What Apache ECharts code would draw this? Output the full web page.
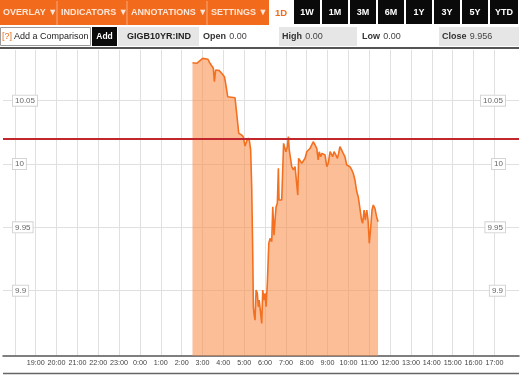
<!DOCTYPE html>
<html>
<head>
<meta charset="utf-8">
<script src="https://cdn.jsdelivr.net/npm/echarts@6/dist/echarts.min.js"></script>
<style>
html,body{margin:0;padding:0;background:#fff;}
#c{width:524px;height:380px;}
</style>
</head>
<body>
<div id="c"></div>
<script>
// Time of day in hours (negative = previous evening), yield values
var times = [2.52,2.72,2.78,3.01,3.26,3.36,3.44,3.52,3.57,3.63,3.71,3.81,3.87,3.92,4.00,4.05,4.11,4.16,4.21,4.56,4.63,4.74,
  4.88,4.96,5.04,5.12,5.20,5.25,5.31,5.36,5.41,5.44,5.47,5.52,5.57,5.63,5.68,5.72,5.79,5.84,5.89,5.95,6.00,6.05,6.11,
  6.18,6.24,6.32,6.37,6.43,6.48,6.53,6.59,6.64,6.67,6.72,6.80,6.85,6.89,6.96,7.00,7.07,7.12,7.16,7.23,7.28,7.36,7.44,
  7.52,7.57,7.61,7.68,7.76,7.83,7.92,8.00,8.07,8.16,8.24,8.31,8.40,8.48,8.55,8.60,8.67,8.73,8.79,8.88,8.96,9.03,9.12,
  9.20,9.24,9.31,9.40,9.47,9.53,9.59,9.67,9.75,9.83,9.92,9.99,10.07,10.16,10.23,10.31,10.40,10.47,10.55,10.63,10.68,
  10.75,10.81,10.88,10.94,11.00,11.07,11.13,11.19,11.27,11.35,11.42];
var yields = [10.080,10.0795,10.078,10.0834,10.0827,10.0795,10.078,10.0756,10.065,10.0742,10.0748,10.0737,10.0729,10.0716,
  10.0703,10.0689,10.0637,10.0624,10.0531,10.0523,10.0513,10.0242,
  10.0229,10.0213,10.0142,10.0182,10.0205,10.0182,10.0111,9.9818,9.9295,9.8873,9.8821,9.8768,9.9005,9.8979,9.8873,
  9.8926,9.8821,9.8742,9.9005,9.8926,9.8979,9.8873,9.9058,
  9.9374,9.9413,9.9387,9.9663,9.9439,9.9558,9.9663,9.969,9.9966,9.9716,9.9729,9.9716,9.9729,10.0163,10.0176,10.0097,
  10.0137,10.0216,10.0111,10.0097,9.9979,9.9953,9.9979,
  9.9966,9.9755,10.0045,10.0032,10.0006,10.0018,10.0045,10.0097,10.0097,10.0124,10.0137,10.0176,10.015,10.0124,
  10.0032,10.0097,10.0058,10.0084,10.0097,10.0071,9.9979,10.0006,10.0097,
  10.0111,10.0058,10.0097,10.0071,10.0045,10.0084,10.0137,10.0111,10.0084,10.0058,9.9992,10.0006,9.9979,9.9953,
  9.9927,9.9874,9.9781,9.9742,9.965,9.9558,9.9532,
  9.9637,9.9558,9.9637,9.9558,9.9374,9.9505,9.9637,9.9676,9.965,9.9584,9.9544];
var prevClose = 10.0234;
var hourTicks = [-6,-5,-4,-3,-2,-1,0,1,2,3,4,5,6,7,8,9,10,11,12,13,14,15,16,17];
var hourLabels = [-5,-4,-3,-2,-1,0,1,2,3,4,5,6,7,8,9,10,11,12,13,14,15,16,17];
var yTicks = [9.9,9.95,10,10.05];
var menuItems = ['OVERLAY \u25BC','INDICATORS \u25BC','ANNOTATIONS \u25BC','SETTINGS \u25BC'];
var rangeButtons = ['1W','1M','3M','6M','1Y','3Y','5Y','YTD'];
var ticker = 'GIGB10YR:IND';
var stats = [['Open','0.00'],['High','0.00'],['Low','0.00'],['Close','9.956']];

var FONT = 'Liberation Sans, Arial, sans-serif';
var ORANGE = '#f26a1b';

var data = times.map(function(t,i){return [t, yields[i]];});

var g = [];
// top menu bar
g.push({type:'rect', shape:{x:0,y:0,width:269,height:25}, style:{fill:ORANGE}});
var menuX = [3,61,131,211];
var sepX = [57,127,207];
sepX.forEach(function(x){ g.push({type:'line', shape:{x1:x,y1:1,x2:x,y2:25}, style:{stroke:'#f9a878',lineWidth:1}}); });
menuItems.forEach(function(s,i){
  g.push({type:'text', x:menuX[i], y:13, style:{text:s, fill:'#fde6d8', font:'bold 9px '+FONT, textVerticalAlign:'middle'}});
});
g.push({type:'text', x:281, y:13, style:{text:'1D', fill:ORANGE, font:'bold 9.5px '+FONT, textAlign:'center', textVerticalAlign:'middle'}});
rangeButtons.forEach(function(s,i){
  var x = 294 + i*28;
  var w = (i===rangeButtons.length-1)?28:26;
  g.push({type:'rect', shape:{x:x,y:0,width:w,height:24}, style:{fill:'#0a0a0a'}});
  g.push({type:'text', x:x+w/2, y:13, style:{text:s, fill:'#ffffff', font:'bold 9px '+FONT, textAlign:'center', textVerticalAlign:'middle'}});
});
// second row
g.push({type:'rect', shape:{x:0.5,y:27.5,width:90,height:18}, style:{fill:'#fff', stroke:'#9a9a9a', lineWidth:1}});
g.push({type:'text', x:2, y:37, style:{text:'[?]', fill:'#e07020', font:'9px '+FONT, textVerticalAlign:'middle'}});
g.push({type:'text', x:14, y:37, style:{text:'Add a Comparison', fill:'#222', font:'9px '+FONT, textVerticalAlign:'middle'}});
g.push({type:'rect', shape:{x:92,y:27,width:25,height:19}, style:{fill:'#0a0a0a'}});
g.push({type:'text', x:104.5, y:37, style:{text:'Add', fill:'#fff', font:'bold 8.5px '+FONT, textAlign:'center', textVerticalAlign:'middle'}});
g.push({type:'rect', shape:{x:118,y:27,width:81,height:19}, style:{fill:'#e6e6e6'}});
g.push({type:'text', x:159, y:37, style:{text:ticker, fill:'#222', font:'bold 9px '+FONT, textAlign:'center', textVerticalAlign:'middle'}});
var statBg = [null,[279,78],null,[439,80]];
var statX = [203,282,362,442];
stats.forEach(function(s,i){
  if(statBg[i]) g.push({type:'rect', shape:{x:statBg[i][0],y:27,width:statBg[i][1],height:19}, style:{fill:'#e6e6e6'}});
  g.push({type:'text', x:statX[i], y:37, style:{rich:{b:{font:'bold 9px '+FONT, fill:'#333'}, n:{font:'9px '+FONT, fill:'#444'}}, text:'{b|'+s[0]+'} {n|'+s[1]+'}', textVerticalAlign:'middle'}});
});
g.push({type:'line', shape:{x1:0,y1:48,x2:519,y2:48}, style:{stroke:'#555',lineWidth:2}});
g.push({type:'line', shape:{x1:3,y1:373.5,x2:519,y2:373.5}, style:{stroke:'#666',lineWidth:1.5}});

var option = {
  animation: false,
  backgroundColor: '#fff',
  grid: {left:3, top:50, width:516, height:305.7, containLabel:false},
  xAxis: {
    type:'value', min:-6.568, max:18.18,
    axisLine:{show:true, lineStyle:{color:'#555', width:1.5}},
    axisTick:{show:false, customValues: hourTicks},
    axisLabel:{customValues: hourLabels, margin:4, fontSize:7.2, color:'#444', fontFamily:FONT,
      formatter:function(v){ return ((v+24)%24)+':00'; }},
    splitLine:{show:true, lineStyle:{color:'#e0e0e0', width:1}}
  },
  yAxis: [{
    type:'value', position:'left', min:9.8487, max:10.09,
    axisLine:{show:false}, axisTick:{show:false, customValues:yTicks},
    axisLabel:{inside:true, customValues:yTicks, margin:10, fontSize:8, color:'#666', fontFamily:FONT,
      backgroundColor:'#fff', borderColor:'#d4d4d4', borderWidth:1, padding:[1,2,1,2],
      formatter:function(v){return String(v);}},
    splitLine:{show:true, lineStyle:{color:'#e0e0e0', width:1}},
    z: 3
  },{
    type:'value', position:'right', min:9.8487, max:10.09,
    axisLine:{show:false}, axisTick:{show:false, customValues:yTicks},
    axisLabel:{inside:true, customValues:yTicks, margin:14, fontSize:8, color:'#666', fontFamily:FONT,
      backgroundColor:'#fff', borderColor:'#d4d4d4', borderWidth:1, padding:[1,2,1,2],
      formatter:function(v){return String(v);}},
    splitLine:{show:false},
    z: 3
  }],
  series: [{
    type:'line', data:data, showSymbol:false, symbol:'none',
    lineStyle:{color:'#f37021', width:1.6},
    areaStyle:{color:'#f98f4a', opacity:0.58, origin:'start'},
    markLine:{silent:true, symbol:['none','none'], label:{show:false},
      lineStyle:{color:'#c1272d', width:2, type:'solid'},
      data:[{yAxis: prevClose}]}
  }],
  graphic: g
};
var chart = echarts.init(document.getElementById('c'), null, {renderer:'canvas'});
chart.setOption(option);
</script>
</body>
</html>
